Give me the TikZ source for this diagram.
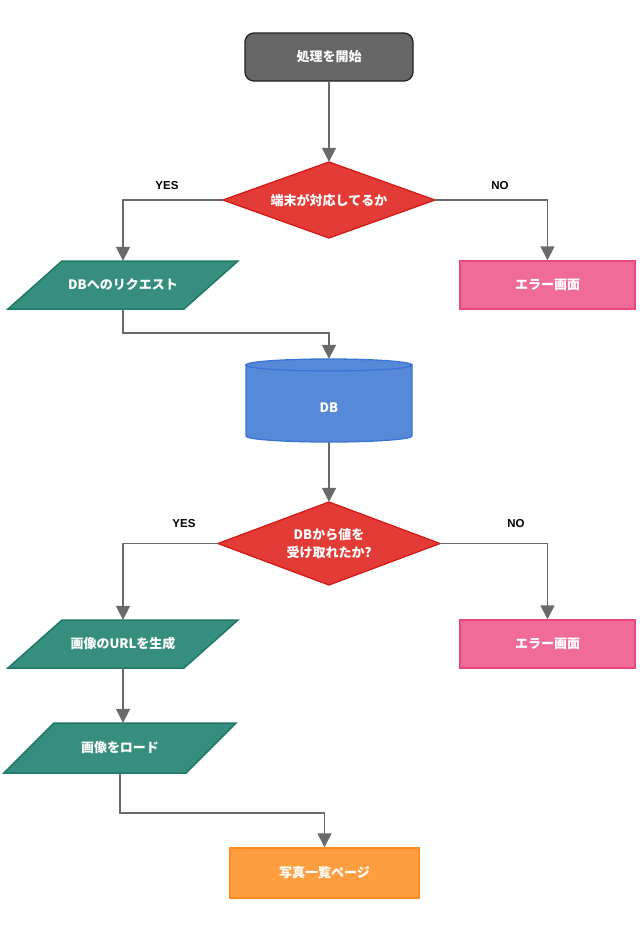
\documentclass[tikz,border=0pt]{standalone}
\usepackage{fontspec}
\setmainfont{Noto Sans CJK JP}
\newfontfamily\latf{Liberation Sans}
\usetikzlibrary{arrows.meta,shapes.geometric}
\definecolor{startgray}{HTML}{666666}
\definecolor{startedge}{HTML}{222222}
\definecolor{decfill}{HTML}{E33B36}
\definecolor{decedge}{HTML}{D41A14}
\definecolor{tealfill}{HTML}{368F7E}
\definecolor{tealedge}{HTML}{1E7A66}
\definecolor{pinkfill}{HTML}{F06B97}
\definecolor{pinkedge}{HTML}{E8487E}
\definecolor{bluefill}{HTML}{5689D8}
\definecolor{blueedge}{HTML}{3A74D6}
\definecolor{orangefill}{HTML}{FF9E40}
\definecolor{orangeedge}{HTML}{FF8C1A}
\definecolor{linegray}{HTML}{6A6A6A}
\begin{document}
\begin{tikzpicture}[x=1pt,y=-1pt,
  txt/.style={text=white, font=\bfseries\fontsize{13}{18.5}\selectfont, align=center, inner sep=0pt},
  startbox/.style={txt, rectangle, rounded corners=9pt, minimum width=168pt, minimum height=48pt, fill=startgray, draw=startedge, line width=1.3pt},
  errbox/.style={txt, rectangle, minimum width=175pt, minimum height=48pt, fill=pinkfill, draw=pinkedge, line width=1.5pt},
  endbox/.style={txt, rectangle, minimum width=189pt, minimum height=50pt, fill=orangefill, draw=orangeedge, line width=1.5pt},
  holder/.style={txt, rectangle, minimum height=48pt},
  decshape/.style={fill=decfill, draw=decedge, line width=1.3pt, line join=miter},
  parashape/.style={fill=tealfill, draw=tealedge, line width=1.5pt, line join=miter},
  cylshape/.style={fill=bluefill, draw=blueedge, line width=1.3pt},
  lab/.style={font=\latf\bfseries\fontsize{11.5}{13}\selectfont, text=black, inner sep=0pt},
  conn/.style={draw=linegray, line width=1.8pt, -{Triangle[width=14pt,length=14pt]}}
]
\useasboundingbox (0,0) rectangle (640,930);
\fill[white] (0,0) rectangle (640,930);

% shapes drawn directly
\draw[decshape] (223,200) -- (329,162) -- (435,200) -- (329,238) -- cycle;
\draw[decshape] (218,543.5) -- (329,502) -- (440,543.5) -- (329,585) -- cycle;
\draw[parashape] (8,309) -- (62,261) -- (238,261) -- (184,309) -- cycle;
\draw[parashape] (8,668) -- (62,620) -- (238,620) -- (184,668) -- cycle;
\draw[parashape] (4,773) -- (54,723) -- (236,723) -- (186,773) -- cycle;
\draw[cylshape] (246,365) -- (246,436) .. controls (246,439.3) and (283.2,442) .. (329,442)
  .. controls (374.8,442) and (412,439.3) .. (412,436) -- (412,365) -- cycle;
\draw[cylshape] (329,365) ellipse [x radius=83pt, y radius=6pt];

% nodes
\node[startbox] (start) at (329,57) {処理を開始};
\node[holder, minimum width=212pt, minimum height=76pt] (d1) at (329,200) {端末が対応してるか};
\node[lab] (yes1) at (167,186) {YES};
\node[lab] (no1) at (500,186) {NO};
\node[holder, minimum width=176pt] (req) at (123,285) {DBへのリクエスト};
\node[errbox] (err1) at (547.5,285) {エラー画面};
\node[txt, rectangle, minimum width=166pt, minimum height=83pt] (db) at (329,400.5) {\raisebox{-12pt}[0pt][0pt]{DB}};
\node[holder, minimum width=222pt, minimum height=83pt] (d2) at (329,543.5) {DBから値を\\受け取れたか?};
\node[lab] (yes2) at (184,524) {YES};
\node[lab] (no2) at (516,524) {NO};
\node[holder, minimum width=176pt] (url) at (123,644) {画像のURLを生成};
\node[errbox] (err2) at (547.5,644) {エラー画面};
\node[holder, minimum width=182pt, minimum height=50pt] (load) at (120,748) {画像をロード};
\node[endbox] (photo) at (324.5,873) {写真一覧ページ};

\coordinate (j1) at (123,333);
\coordinate (j2) at (120,813);

% connectors
\draw[conn] (start.south) -- (d1.north);
\draw[conn] (d1.west) -| (req.north);
\draw[conn] (d1.east) -| (err1.north);
\draw[conn] (req.south) -- (j1) -| (db.north);
\draw[conn] (db.south) -- (d2.north);
\draw[conn] (d2.west) -| (url.north);
\draw[conn] (d2.east) -| (err2.north);
\draw[conn] (url.south) -- (url.south |- load.north);
\draw[conn] (load.south) -- (j2) -| (photo.north);
\end{tikzpicture}
\end{document}
